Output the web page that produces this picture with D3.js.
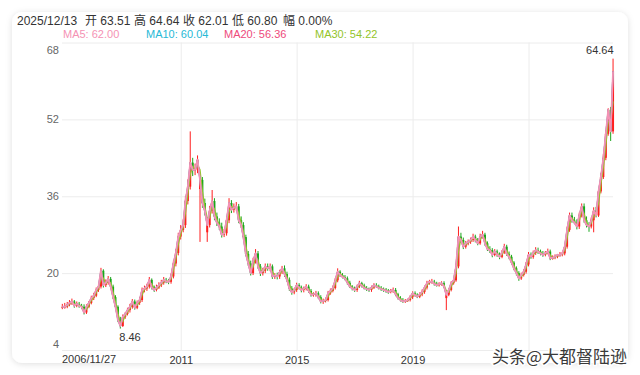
<!DOCTYPE html>
<html>
<head>
<meta charset="utf-8">
<script src="https://cdn.jsdelivr.net/npm/d3@7"></script>
<style>
  body { margin: 0; background: #fff; }
  svg { display: block; font-family: "Liberation Sans", "Noto Sans CJK SC", sans-serif; }
</style>
</head>
<body>
<svg id="chart"></svg>
<script>
// monthly candles from Dec 2006 to Dec 2025, one row per year
var opens = [12.8,
  13.0, 13.0, 13.4, 13.8, 14.1, 13.2, 13.6, 13.2, 13.0, 11.8, 13.0, 13.8,
  14.8, 15.3, 16.5, 17.2, 20.5, 17.5, 18.0, 18.8, 17.2, 15.0, 13.0, 10.3,
  9.0, 10.9, 11.5, 12.3, 13.0, 14.1, 12.8, 13.8, 14.4, 16.5, 16.8, 17.2,
  18.6, 17.0, 16.5, 17.0, 17.5, 18.0, 18.6, 18.3, 18.2, 19.3, 22.0, 24.2,
  27.6, 29.0, 30.0, 35.0, 38.0, 43.0, 41.5, 41.5, 37.5, 39.4, 34.6, 28.5,
  30.0, 33.0, 35.0, 31.8, 30.5, 29.7, 28.0, 28.3, 31.0, 34.6, 33.2, 33.6,
  33.9, 31.0, 30.0, 27.5, 24.0, 22.0, 20.0, 22.5, 24.1, 21.4, 20.0, 20.5,
  21.4, 21.0, 21.4, 19.3, 19.5, 19.3, 20.2, 21.0, 19.8, 18.6, 16.8, 16.0,
  16.5, 17.5, 17.0, 16.5, 16.8, 17.2, 16.3, 15.5, 15.6, 15.8, 15.0, 14.1,
  14.2, 14.4, 15.8, 16.3, 16.9, 18.5, 20.3, 19.6, 19.2, 18.9, 18.0, 17.2,
  16.8, 16.5, 17.2, 17.9, 17.4, 16.9, 16.7, 16.5, 17.0, 17.5, 17.2, 16.9,
  16.7, 16.5, 16.3, 16.1, 16.3, 16.5, 15.6, 14.8, 14.4, 14.1, 14.2, 14.4,
  15.0, 15.8, 15.4, 15.1, 15.6, 16.1, 17.0, 17.9, 18.2, 18.2, 17.8, 17.5,
  17.7, 17.9, 14.8, 15.5, 16.5, 17.9, 18.5, 21.4, 27.6, 26.9, 25.5, 26.2,
  26.5, 26.9, 27.6, 26.9, 26.2, 27.6, 28.0, 26.2, 25.0, 24.8, 23.8, 24.5,
  23.9, 23.4, 24.3, 25.5, 24.0, 23.4, 22.2, 21.0, 20.0, 18.9, 19.6, 20.3,
  21.8, 23.8, 23.4, 24.2, 24.8, 24.5, 24.1, 23.8, 24.2, 24.5, 23.1, 23.2,
  23.4, 23.8, 23.8, 24.1, 25.5, 29.0, 32.0, 31.0, 30.5, 29.7, 32.0, 33.9,
  31.0, 30.0, 29.7, 31.0, 33.0, 32.0, 37.0, 40.0, 44.0, 49.0, 54.0, 49.5];

var highs = [13.6,
  13.8, 14.0, 14.4, 14.7, 14.4, 14.1, 14.0, 13.6, 13.5, 13.5, 14.2, 15.3,
  15.9, 17.0, 17.9, 21.1, 20.8, 18.7, 19.4, 19.2, 17.6, 15.4, 13.3, 10.9,
  11.4, 11.9, 12.8, 13.6, 14.6, 14.5, 14.3, 15.0, 17.0, 17.4, 17.8, 19.2,
  18.9, 17.4, 17.6, 18.1, 18.6, 19.2, 19.0, 18.8, 19.9, 22.6, 25.0, 28.4,
  30.0, 31.2, 36.0, 39.5, 49.5, 44.0, 42.8, 44.5, 40.6, 40.0, 35.5, 31.0,
  34.0, 37.3, 35.6, 32.6, 31.4, 30.5, 29.2, 31.8, 35.6, 35.2, 34.5, 34.8,
  34.4, 31.8, 30.6, 28.0, 24.6, 22.6, 23.2, 25.0, 24.6, 21.9, 21.1, 22.0,
  22.0, 22.0, 21.8, 20.0, 20.1, 20.7, 21.5, 21.6, 20.3, 19.1, 17.3, 16.9,
  18.0, 17.9, 17.4, 17.2, 17.7, 17.6, 16.7, 16.0, 16.3, 16.2, 15.4, 14.7,
  14.9, 16.3, 16.8, 17.4, 19.0, 21.0, 20.6, 20.0, 19.6, 19.3, 18.4, 17.5,
  17.2, 17.6, 18.4, 18.2, 17.8, 17.3, 17.0, 17.4, 17.9, 17.9, 17.6, 17.3,
  17.0, 16.9, 16.7, 16.7, 17.0, 16.9, 15.9, 15.2, 14.8, 14.6, 14.7, 15.4,
  16.2, 16.2, 15.8, 16.0, 16.6, 17.4, 18.4, 18.6, 18.8, 18.6, 18.2, 18.1,
  18.3, 18.3, 15.9, 16.8, 18.3, 18.9, 22.0, 29.7, 28.4, 27.4, 26.7, 27.0,
  27.4, 28.2, 28.0, 27.3, 28.2, 28.8, 28.4, 26.6, 25.6, 25.2, 25.0, 24.9,
  24.3, 24.8, 26.1, 25.9, 24.5, 23.8, 22.5, 21.4, 20.4, 20.1, 20.8, 22.3,
  24.4, 24.3, 24.7, 25.4, 25.3, 24.9, 24.6, 24.6, 25.1, 24.9, 23.7, 23.9,
  24.0, 24.4, 24.4, 26.0, 29.7, 32.6, 32.6, 31.7, 31.2, 32.6, 34.5, 34.5,
  31.8, 30.6, 31.6, 33.7, 33.8, 37.6, 40.8, 44.8, 49.8, 54.3, 54.6, 64.64];

var lows = [12.5,
  12.6, 12.7, 13.1, 13.4, 12.8, 12.9, 12.8, 12.5, 11.4, 11.5, 12.7, 13.5,
  14.4, 15.0, 16.1, 16.8, 17.0, 17.1, 17.6, 16.8, 14.6, 12.6, 9.8, 8.46,
  8.8, 10.5, 11.2, 11.8, 12.6, 12.4, 12.5, 13.4, 14.0, 16.0, 16.3, 16.8,
  16.6, 16.1, 16.2, 16.7, 17.1, 17.6, 17.9, 17.7, 17.8, 18.9, 21.4, 23.7,
  27.0, 28.5, 29.4, 34.3, 37.4, 40.2, 40.4, 40.8, 26.5, 33.6, 32.0, 26.5,
  29.5, 32.4, 31.0, 29.8, 29.0, 27.4, 27.5, 27.8, 30.4, 32.5, 32.6, 33.0,
  30.4, 29.4, 27.0, 23.5, 21.5, 19.5, 19.6, 22.0, 20.9, 19.4, 19.5, 20.0,
  20.5, 20.4, 18.8, 18.8, 18.7, 18.8, 19.8, 19.2, 18.2, 16.3, 15.5, 15.6,
  16.1, 16.6, 16.0, 16.0, 16.4, 15.9, 15.1, 15.1, 15.1, 14.6, 13.7, 13.6,
  13.9, 14.1, 15.5, 16.0, 16.6, 18.1, 19.2, 18.9, 18.5, 17.6, 16.9, 16.4,
  16.1, 16.1, 16.9, 17.0, 16.6, 16.3, 16.1, 16.1, 16.7, 17.0, 16.6, 16.3,
  16.1, 15.9, 15.7, 15.8, 15.9, 15.2, 14.5, 14.1, 13.8, 13.8, 14.0, 14.1,
  14.6, 15.1, 14.8, 14.8, 15.2, 15.7, 16.6, 17.6, 17.8, 17.4, 17.2, 17.2,
  17.4, 16.9, 12.3, 15.2, 16.2, 17.6, 18.2, 21.0, 26.3, 25.0, 25.1, 25.8,
  26.1, 26.5, 26.4, 25.8, 25.9, 27.2, 25.7, 24.6, 24.2, 23.3, 23.5, 23.4,
  22.9, 23.1, 24.0, 23.6, 22.9, 21.8, 20.6, 19.5, 18.4, 18.6, 19.3, 19.9,
  21.4, 23.0, 23.0, 23.8, 24.0, 23.7, 23.4, 23.5, 23.9, 22.7, 22.8, 22.9,
  23.1, 23.4, 23.5, 23.7, 25.1, 28.6, 30.5, 30.2, 29.1, 29.2, 31.6, 30.5,
  29.5, 28.6, 29.3, 28.5, 31.6, 31.7, 36.6, 39.6, 43.5, 48.6, 47.5, 49.0];

var closes = [13.0,
  13.0, 13.4, 13.8, 14.1, 13.2, 13.6, 13.2, 13.0, 11.8, 13.0, 13.8, 14.8,
  15.3, 16.5, 17.2, 20.5, 17.5, 18.0, 18.8, 17.2, 15.0, 13.0, 10.3, 9.0,
  10.9, 11.5, 12.3, 13.0, 14.1, 12.8, 13.8, 14.4, 16.5, 16.8, 17.2, 18.6,
  17.0, 16.5, 17.0, 17.5, 18.0, 18.6, 18.3, 18.2, 19.3, 22.0, 24.2, 27.6,
  29.0, 30.0, 35.0, 38.0, 43.0, 41.5, 41.5, 43.6, 39.4, 34.6, 33.0, 30.0,
  33.0, 35.0, 31.8, 30.5, 29.7, 28.0, 28.3, 31.0, 34.6, 33.2, 33.6, 33.9,
  31.0, 30.0, 27.5, 24.0, 22.0, 20.0, 22.5, 24.1, 21.4, 20.0, 20.5, 21.4,
  21.0, 21.4, 19.3, 19.5, 19.3, 20.2, 21.0, 19.8, 18.6, 16.8, 16.0, 16.5,
  17.5, 17.0, 16.5, 16.8, 17.2, 16.3, 15.5, 15.6, 15.8, 15.0, 14.1, 14.2,
  14.4, 15.8, 16.3, 16.9, 18.5, 20.3, 19.6, 19.2, 18.9, 18.0, 17.2, 16.8,
  16.5, 17.2, 17.9, 17.4, 16.9, 16.7, 16.5, 17.0, 17.5, 17.2, 16.9, 16.7,
  16.5, 16.3, 16.1, 16.3, 16.5, 15.6, 14.8, 14.4, 14.1, 14.2, 14.4, 15.0,
  15.8, 15.4, 15.1, 15.6, 16.1, 17.0, 17.9, 18.2, 18.2, 17.8, 17.5, 17.7,
  17.9, 17.2, 15.5, 16.5, 17.9, 18.5, 21.4, 27.6, 26.9, 25.5, 26.2, 26.5,
  26.9, 27.6, 26.9, 26.2, 27.6, 28.0, 26.2, 25.0, 24.8, 23.8, 24.5, 23.9,
  23.4, 24.3, 25.5, 24.0, 23.4, 22.2, 21.0, 20.0, 18.9, 19.6, 20.3, 21.8,
  23.8, 23.4, 24.2, 24.8, 24.5, 24.1, 23.8, 24.2, 24.5, 23.1, 23.2, 23.4,
  23.8, 23.8, 24.1, 25.5, 29.0, 32.0, 31.0, 30.5, 29.7, 32.0, 33.9, 31.0,
  30.0, 29.7, 31.0, 33.0, 32.0, 37.0, 40.0, 44.0, 49.0, 54.0, 49.5, 62.01];

var firstMonth = new Date(2006, 11, 1);
var yTicks = [4, 20, 36, 52, 68];
var yearTicks = [2011, 2015, 2019, 2023];
var yearLabels = ["2011", "2015", "2019", ""];   // 2023 sits under the watermark
var startLabel = "2006/11/27";

var headerItems = ["2025/12/13", "开 63.51", "高 64.64", "收 62.01", "低 60.80", "幅 0.00%"];
var headerX = [17, 85, 134, 183, 232, 283];
var maNames = ["MA5", "MA10", "MA20", "MA30"];
var maValues = ["62.00", "60.04", "56.36", "54.22"];
var maDays = [5, 10, 20, 30];
var maColors = ["#f592b4", "#27b9d6", "#ee4a7c", "#93c42a"];
var legendX = [63, 146, 224, 315];

var upColor = "#ff1e1e", downColor = "#19a61c";

var svg = d3.select("#chart").attr("width", 640).attr("height", 375);

// card with soft shadow
var filter = svg.append("defs").append("filter").attr("id", "shadow")
    .attr("x", "-5%").attr("y", "-5%").attr("width", "110%").attr("height", "115%");
filter.append("feDropShadow").attr("dx", 0).attr("dy", 1).attr("stdDeviation", 3)
    .attr("flood-color", "#000").attr("flood-opacity", 0.13);
svg.append("rect").attr("x", 12).attr("y", 12).attr("width", 616).attr("height", 351)
    .attr("rx", 10).attr("fill", "#fff").attr("filter", "url(#shadow)");

var dates = closes.map(function(d, i) { return d3.timeMonth.offset(firstMonth, i); });

var x = d3.scaleTime()
    .domain([new Date(2006, 10, 27), new Date(2025, 11, 13)])
    .range([62, 614]);
var y = d3.scaleLinear().domain([4, 68]).range([350, 42.5]);

// y grid + labels
var yAxis = svg.append("g")
    .attr("transform", "translate(62,0)")
    .call(d3.axisLeft(y).tickValues(yTicks).tickSize(-551).tickPadding(3));
yAxis.select(".domain").remove();
yAxis.selectAll("line").attr("stroke", "#ececec");
yAxis.selectAll("text").attr("fill", "#666").style("font-size", "11px")
    .attr("dy", function(d) { return d === 68 ? "1.0em" : d === 4 ? "-0.2em" : "0.32em"; });

// x grid + labels
var xAxis = svg.append("g")
    .attr("transform", "translate(0,350)")
    .call(d3.axisBottom(x)
        .tickValues(yearTicks.map(function(yr) { return new Date(yr, 0, 1); }))
        .tickSize(-307.5).tickPadding(4)
        .tickFormat(function(d, i) { return yearLabels[i]; }));
xAxis.select(".domain").remove();
xAxis.selectAll("line").attr("stroke", "#ececec");
xAxis.selectAll("text").attr("fill", "#333").style("font-size", "11px").attr("dy", "0.95em");
svg.append("text")
    .attr("x", 62).attr("y", 363)
    .attr("fill", "#333").style("font-size", "11px")
    .text(startLabel);

// candles
var candles = svg.append("g");
candles.selectAll("line")
    .data(closes)
    .enter().append("line")
    .attr("x1", function(d, i) { return x(dates[i]); })
    .attr("x2", function(d, i) { return x(dates[i]); })
    .attr("y1", function(d, i) { return y(highs[i]); })
    .attr("y2", function(d, i) { return y(lows[i]); })
    .attr("stroke", function(d, i) { return d >= opens[i] ? upColor : downColor; })
    .attr("stroke-width", 1);
candles.selectAll("rect")
    .data(closes)
    .enter().append("rect")
    .attr("x", function(d, i) { return x(dates[i]) - 1; })
    .attr("width", 2)
    .attr("y", function(d, i) { return y(Math.max(d, opens[i])); })
    .attr("height", function(d, i) { return Math.max(0.8, Math.abs(y(d) - y(opens[i]))); })
    .attr("fill", function(d, i) { return d >= opens[i] ? upColor : downColor; });

// moving averages: legend periods are trading days, data here are months (~21 days)
function movingAverage(win) {
  return closes.map(function(d, i) {
    if (i < win - 1) return null;
    return d3.mean(closes.slice(i - win + 1, i + 1));
  });
}
var line = d3.line()
    .defined(function(d) { return d != null; })
    .x(function(d, i) { return x(dates[i]); })
    .y(function(d) { return y(d); });
for (var k = maDays.length - 1; k >= 0; k--) {
  svg.append("path")
      .datum(movingAverage(Math.ceil(maDays[k] / 21)))
      .attr("fill", "none")
      .attr("stroke", maColors[k])
      .attr("stroke-width", k === 0 ? 1.8 : 1.3)
      .attr("stroke-linejoin", "round")
      .attr("d", line);
}

// max / min markers
var iMax = d3.maxIndex(highs), iMin = d3.minIndex(lows);
svg.append("text")
    .attr("x", x(dates[iMax]) + 0.5).attr("y", y(highs[iMax]) - 5)
    .attr("text-anchor", "end").attr("fill", "#333").style("font-size", "11px")
    .text(highs[iMax].toFixed(2));
svg.append("text")
    .attr("x", x(dates[iMin]) - 1).attr("y", y(lows[iMin]) + 12)
    .attr("fill", "#333").style("font-size", "11px")
    .text(lows[iMin].toFixed(2));

// header
svg.append("g").selectAll("text")
    .data(headerItems)
    .enter().append("text")
    .attr("x", function(d, i) { return headerX[i]; })
    .attr("y", 25)
    .attr("fill", "#333").style("font-size", "12px")
    .text(function(d) { return d; });

svg.append("g").selectAll("text")
    .data(maNames)
    .enter().append("text")
    .attr("x", function(d, i) { return legendX[i]; })
    .attr("y", 38)
    .attr("fill", function(d, i) { return maColors[i]; })
    .style("font-size", "11px")
    .text(function(d, i) { return d + ": " + maValues[i]; });

// watermark
svg.append("text")
    .attr("x", 627).attr("y", 363)
    .attr("text-anchor", "end")
    .style("font-family", "'Noto Sans CJK SC', sans-serif")
    .style("font-size", "17px")
    .attr("fill", "#3a3a3a")
    .attr("stroke", "#fff").attr("stroke-width", 3)
    .attr("paint-order", "stroke")
    .text("头条@大都督陆逊");
</script>
</body>
</html>
